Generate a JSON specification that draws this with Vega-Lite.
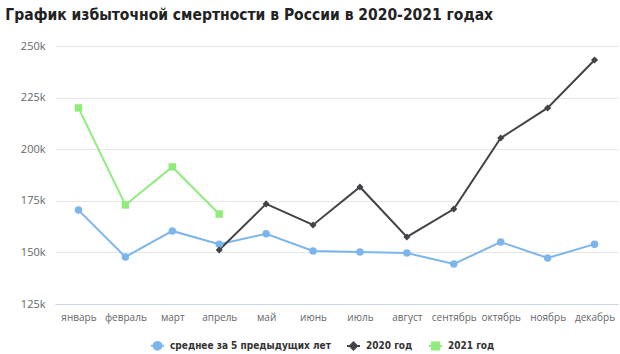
{
  "$schema": "https://vega.github.io/schema/vega-lite/v6.json",
  "autosize": {"type": "none"},
  "width": 563,
  "height": 258,
  "padding": {"left": 55, "top": 46, "right": 2, "bottom": 50},
  "background": "white",
  "title": {
    "text": "График избыточной смертности в России в 2020-2021 годах",
    "anchor": "start",
    "dx": -15,
    "offset": 17,
    "font": "DejaVu Sans Condensed",
    "fontSize": 15.5,
    "fontWeight": "bold",
    "color": "#222222"
  },
  "config": {
    "view": {"stroke": null},
    "font": "Open Sans"
  },
  "data": {
    "values": [
      {"month": "январь", "series": "среднее за 5 предыдущих лет", "value": 170500},
      {"month": "февраль", "series": "среднее за 5 предыдущих лет", "value": 147800},
      {"month": "март", "series": "среднее за 5 предыдущих лет", "value": 160400},
      {"month": "апрель", "series": "среднее за 5 предыдущих лет", "value": 154000},
      {"month": "май", "series": "среднее за 5 предыдущих лет", "value": 159000},
      {"month": "июнь", "series": "среднее за 5 предыдущих лет", "value": 150700},
      {"month": "июль", "series": "среднее за 5 предыдущих лет", "value": 150200},
      {"month": "август", "series": "среднее за 5 предыдущих лет", "value": 149700},
      {"month": "сентябрь", "series": "среднее за 5 предыдущих лет", "value": 144400},
      {"month": "октябрь", "series": "среднее за 5 предыдущих лет", "value": 155000},
      {"month": "ноябрь", "series": "среднее за 5 предыдущих лет", "value": 147300},
      {"month": "декабрь", "series": "среднее за 5 предыдущих лет", "value": 154000},
      {"month": "апрель", "series": "2020 год", "value": 151200},
      {"month": "май", "series": "2020 год", "value": 173500},
      {"month": "июнь", "series": "2020 год", "value": 163300},
      {"month": "июль", "series": "2020 год", "value": 181700},
      {"month": "август", "series": "2020 год", "value": 157500},
      {"month": "сентябрь", "series": "2020 год", "value": 171000},
      {"month": "октябрь", "series": "2020 год", "value": 205400},
      {"month": "ноябрь", "series": "2020 год", "value": 220000},
      {"month": "декабрь", "series": "2020 год", "value": 243200},
      {"month": "январь", "series": "2021 год", "value": 220000},
      {"month": "февраль", "series": "2021 год", "value": 173000},
      {"month": "март", "series": "2021 год", "value": 191400},
      {"month": "апрель", "series": "2021 год", "value": 168600}
    ]
  },
  "encoding": {
    "x": {
      "field": "month",
      "type": "ordinal",
      "sort": ["январь", "февраль", "март", "апрель", "май", "июнь", "июль", "август", "сентябрь", "октябрь", "ноябрь", "декабрь"],
      "scale": {"type": "point", "padding": 0.5},
      "axis": {
        "title": null,
        "labelAngle": 0,
        "labelFontSize": 10,
        "labelColor": "#666666",
        "ticks": false,
        "domainColor": "#ccd6eb",
        "labelPadding": 8,
        "grid": false
      }
    },
    "y": {
      "field": "value",
      "type": "quantitative",
      "scale": {"domain": [125000, 250000], "nice": false, "zero": false},
      "axis": {
        "title": null,
        "values": [125000, 150000, 175000, 200000, 225000, 250000],
        "format": ".3s",
        "labelFontSize": 11,
        "labelColor": "#666666",
        "ticks": false,
        "domain": false,
        "gridColor": "#e6e6e6",
        "labelPadding": 10
      }
    }
  },
  "layer": [
    {
      "mark": {"type": "line", "strokeWidth": 2},
      "encoding": {
        "color": {
          "field": "series",
          "type": "nominal",
          "scale": {
            "domain": ["среднее за 5 предыдущих лет", "2020 год", "2021 год"],
            "range": ["#7cb5ec", "#434348", "#90ed7d"]
          },
          "legend": {
            "title": null,
            "orient": "none",
            "legendX": 95,
            "legendY": 292,
            "direction": "horizontal",
            "labelFontSize": 10,
            "labelFontWeight": "bold",
            "labelColor": "#333333",
            "labelFont": "DejaVu Sans Condensed",
            "labelLimit": 400,
            "columnPadding": 12,
            "labelOffset": 5,
            "symbolSize": 169,
            "encode": {
              "symbols": {
                "update": {
                  "shape": {"signal": "datum.value === '2020 год' ? 'M-1,0H1M0,-0.55L0.55,0L0,0.55L-0.55,0Z' : datum.value === '2021 год' ? 'M-1,0H1M-0.55,-0.55H0.55V0.55H-0.55Z' : 'M-1,0H1M-0.6,0A0.6,0.6 0 1,0 0.6,0A0.6,0.6 0 1,0 -0.6,0Z'"},
                  "fill": {"signal": "scale('color', datum.value)"},
                  "stroke": {"signal": "scale('color', datum.value)"},
                  "strokeWidth": {"value": 2},
                  "opacity": {"value": 1}
                }
              }
            }
          }
        }
      }
    },
    {
      "transform": [{"filter": "datum.series === 'среднее за 5 предыдущих лет'"}],
      "mark": {"type": "point", "filled": true, "opacity": 1, "size": 56, "shape": "circle", "color": "#7cb5ec"}
    },
    {
      "transform": [{"filter": "datum.series === '2020 год'"}],
      "mark": {"type": "point", "filled": true, "opacity": 1, "size": 50, "shape": "diamond", "color": "#434348"}
    },
    {
      "transform": [{"filter": "datum.series === '2021 год'"}],
      "mark": {"type": "point", "filled": true, "opacity": 1, "size": 56, "shape": "square", "color": "#90ed7d"}
    }
  ]
}
